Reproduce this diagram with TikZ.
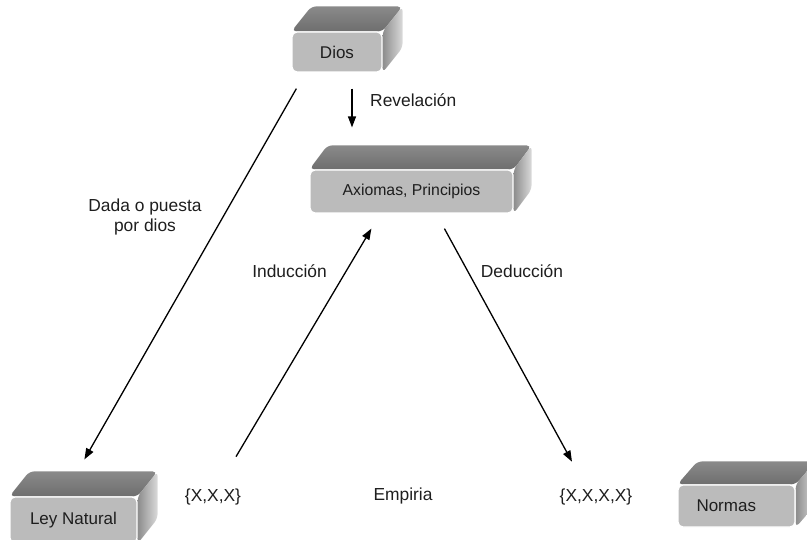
\documentclass[tikz,border=0pt]{standalone}
\usepackage{fontspec}
\setmainfont{Liberation Sans}
\usetikzlibrary{arrows.meta,backgrounds,calc}
\definecolor{txt}{HTML}{1E1E1E}
\definecolor{frontc}{HTML}{BBBBBB}
\definecolor{topcA}{HTML}{8A8A8A}
\definecolor{topcB}{HTML}{6E6E6E}
\definecolor{sidecA}{HTML}{8C8C8C}
\definecolor{sidecB}{HTML}{DADADA}
\tikzset{
 frontbox/.style={draw=white, line width=1.2pt, fill=frontc, rounded corners=5pt, text=txt,
   font=\fontsize{17}{19}\selectfont, inner sep=0pt},
 lbl/.style={text=txt, font=\fontsize{17.4}{20.5}\selectfont, inner sep=0pt, align=center},
 arr/.style={draw=black, line width=1.3pt, -{Triangle[length=11pt,width=8pt]}},
 topface/.style={top color=topcA, bottom color=topcB, rounded corners=5pt},
 sideface/.style={left color=sidecA, right color=sidecB, rounded corners=5pt},
}
\newcommand{\slabfaces}[3]{%
 \begin{scope}[on background layer]
  \shade[topface] (#1.north west) -- ($(#1.north west)+(#2,#3)$) -- ($(#1.north east)+(#2,#3)$) -- (#1.north east) -- cycle;
  \shade[sideface] (#1.north east) -- ($(#1.north east)+(#2,#3)$) -- ($(#1.south east)+(#2,#3)$) -- (#1.south east) -- cycle;
 \end{scope}}
\begin{document}
\begin{tikzpicture}[x=1pt,y=-1pt]
\useasboundingbox (0,0) rectangle (807,540);
% boxes
\node[frontbox, minimum width=90pt, minimum height=40pt] (dios) at (337,52) {Dios};
\slabfaces{dios}{20}{-25}
\node[frontbox, minimum width=203pt, minimum height=43pt, font=\fontsize{15.8}{18}\selectfont] (axi) at (411.5,191.5) {Axiomas, Principios};
\slabfaces{axi}{18}{-24}
\node[frontbox, minimum width=127pt, minimum height=46pt] (ley) at (73.5,520) {Ley Natural};
\slabfaces{ley}{20}{-25}
\node[frontbox, minimum width=117pt, minimum height=42pt, text width=100pt, align=left] (normas) at (736.5,506) {\hspace*{10pt}Normas};
\slabfaces{normas}{20}{-23}
% text nodes
\node[lbl] (x3) at (213,497) {\{X,X,X\}};
\node[lbl] (emp) at (403,496) {Empiria};
\node[lbl] (x4) at (596,497) {\{X,X,X,X\}};
% connectors
\draw[arr] ([xshift=5pt,yshift=-16pt]dios.south west) -- ([xshift=75pt,yshift=37pt]ley.north west);
\draw[arr] ([xshift=15pt,yshift=-16pt]dios.south) -- ([xshift=-59.5pt,yshift=42pt]axi.north);
\draw[arr] ([xshift=23pt,yshift=32pt]x3.north) -- ([xshift=62pt,yshift=-15pt]axi.south west);
\draw[arr] ([xshift=135pt,yshift=-15pt]axi.south west) -- ([xshift=-24pt,yshift=27pt]x4.north);
% labels
\node[lbl, anchor=west] (rev) at (370,100) {Revelación};
\node[lbl] (dada) at (145,217) {Dada o puesta\\por dios};
\node[lbl] (ind) at (289.5,271) {Inducción};
\node[lbl] (ded) at (522,271) {Deducción};
\end{tikzpicture}
\end{document}
